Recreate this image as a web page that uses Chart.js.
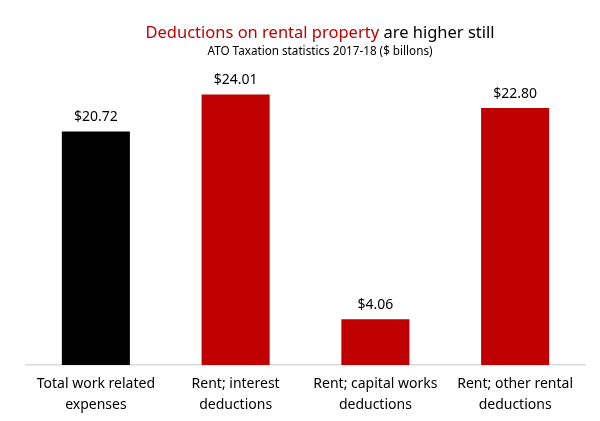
<!DOCTYPE html>
<html>
<head>
<meta charset="utf-8">
<script src="https://cdn.jsdelivr.net/npm/chart.js@4/dist/chart.umd.min.js"></script>
<style>
  html, body { margin: 0; padding: 0; background: #fff; }
  #wrap { width: 600px; height: 421px; position: relative; }
</style>
</head>
<body>
<div id="wrap"><canvas id="chart" width="600" height="421"></canvas></div>
<script>
// data
const categories = [
  ["Total work related", "expenses"],
  ["Rent; interest", "deductions"],
  ["Rent; capital works", "deductions"],
  ["Rent; other rental", "deductions"]
];
const values = [20.72, 24.01, 4.06, 22.80];
const barColors = ["#000000", "#c00000", "#c00000", "#c00000"];

const FONT = "'Noto Sans', 'Open Sans', sans-serif";

// title in two colours + subtitle
const titlePlugin = {
  id: "twoTone",
  afterDraw(chart) {
    const ctx = chart.ctx;
    ctx.save();
    ctx.textBaseline = "alphabetic";
    ctx.font = "16.5px " + FONT;
    const partA = "Deductions on rental property";
    const partB = " are higher still";
    const wA = ctx.measureText(partA).width;
    const wB = ctx.measureText(partB).width;
    const cx = 320;
    let x = cx - (wA + wB) / 2;
    ctx.textAlign = "left";
    ctx.fillStyle = "#c00000";
    ctx.fillText(partA, x, 38);
    ctx.fillStyle = "#000";
    ctx.fillText(partB, x + wA, 38);
    ctx.font = "11.7px " + FONT;
    ctx.textAlign = "center";
    ctx.fillText("ATO Taxation statistics 2017-18 ($ billons)", cx, 55);
    ctx.restore();
  }
};

// value labels above bars
const valueLabels = {
  id: "valueLabels",
  afterDatasetsDraw(chart) {
    const ctx = chart.ctx;
    const meta = chart.getDatasetMeta(0);
    ctx.save();
    ctx.font = "14px " + FONT;
    ctx.fillStyle = "#000";
    ctx.textAlign = "center";
    ctx.textBaseline = "bottom";
    meta.data.forEach((bar, i) => {
      ctx.fillText("$" + values[i].toFixed(2), bar.x, bar.y - 7);
    });
    ctx.restore();
  }
};

const chart = new Chart(document.getElementById("chart"), {
  type: "bar",
  data: {
    labels: categories,
    datasets: [{
      data: values,
      backgroundColor: barColors,
      categoryPercentage: 1,
      barPercentage: 0.487
    }]
  },
  options: {
    responsive: false,
    animation: false,
    layout: { padding: { left: 26, right: 15, top: 72, bottom: 4 } },
    plugins: {
      legend: { display: false },
      tooltip: { enabled: false }
    },
    scales: {
      x: {
        grid: { display: false },
        border: { color: "#d9d9d9", width: 1.5 },
        ticks: {
          color: "#000",
          font: { family: FONT, size: 14, lineHeight: 1.5 },
          padding: 1,
          maxRotation: 0
        }
      },
      y: {
        display: false,
        min: 0,
        max: 26
      }
    }
  },
  plugins: [titlePlugin, valueLabels]
});
</script>
</body>
</html>
